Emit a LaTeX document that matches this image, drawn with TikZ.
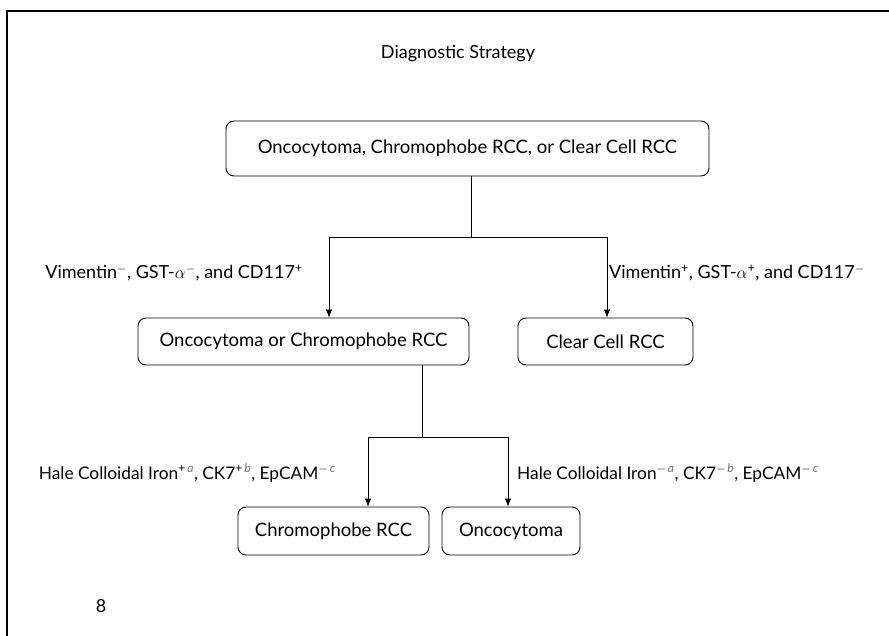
\documentclass[tikz,border=0pt]{standalone}
\usepackage{fontspec}
\setmainfont{Lato}
\usetikzlibrary{arrows.meta}
\newcommand{\nt}[1]{\textcolor{black!55}{\textit{#1}}}
\begin{document}
\begin{tikzpicture}[x=1pt,y=-1pt,
  box/.style={draw,rounded corners=8pt,line width=0.9pt,inner sep=0pt,font=\fontsize{18.5}{22}\selectfont},
  lbl/.style={inner sep=0pt,font=\fontsize{18}{22}\selectfont},
  arr/.style={-{Latex[length=8pt,width=6.5pt]},line width=0.8pt}]
 \useasboundingbox (0,0) rectangle (889,636);
 \draw[line width=2pt] (7,636) -- (7,11) -- (889,11);
 \node[lbl] (T) at (458,54) {Diagnostic Strategy};
 % boxes
 \node[box,minimum width=483pt,minimum height=55pt] (A) at (467.5,148.5) {Oncocytoma, Chromophobe RCC, or Clear Cell RCC};
 \node[box,minimum width=331pt,minimum height=47pt] (B) at (303.5,341.5) {Oncocytoma or Chromophobe RCC};
 \node[box,minimum width=175pt,minimum height=47pt] (C) at (605.5,341.5) {Clear Cell RCC};
 \node[box,minimum width=191pt,minimum height=48pt] (D) at (333.5,531) {Chromophobe RCC};
 \node[box,minimum width=138pt,minimum height=48pt] (E) at (511,531) {Oncocytoma};
 % junctions
 \coordinate (J1) at (471,237);
 \coordinate (J1l) at (329,237);
 \coordinate (J1r) at (607,237);
 \coordinate (J2) at (422,437);
 \coordinate (J2l) at (368,437);
 \coordinate (J2r) at (508,437);
 \draw[line width=0.8pt] (A.south -| J1) -- (J1);
 \draw[arr] (J1) -- (J1l) -- (J1l |- B.north);
 \draw[arr] (J1) -- (J1r) -- (J1r |- C.north);
 \draw[line width=0.8pt] (B.south -| J2) -- (J2);
 \draw[arr] (J2) -- (J2l) -- (J2l |- D.north);
 \draw[arr] (J2) -- (J2r) -- (J2r |- E.north);
 % labels
 \node[lbl,anchor=east] (L1) at (303,273) {Vimentin\textsuperscript{$-$}, GST-$\alpha$\textsuperscript{$-$}, and CD117\textsuperscript{+}};
 \node[lbl,anchor=west] (R1) at (609,273) {Vimentin\textsuperscript{+}, GST-$\alpha$\textsuperscript{+}, and CD117\textsuperscript{$-$}};
 \node[lbl,anchor=east,font=\fontsize{17.3}{21}\selectfont] (L2) at (336,473) {Hale Colloidal Iron\textsuperscript{+\,\nt{a}}, CK7\textsuperscript{+\,\nt{b}}, EpCAM\textsuperscript{$-$\,\nt{c}}};
 \node[lbl,anchor=west,font=\fontsize{17.3}{21}\selectfont] (R2) at (517,473) {Hale Colloidal Iron\textsuperscript{$-$\,\nt{a}}, CK7\textsuperscript{$-$\,\nt{b}}, EpCAM\textsuperscript{$-$\,\nt{c}}};
 \node[lbl] (P) at (101,606) {8};
\end{tikzpicture}
\end{document}
